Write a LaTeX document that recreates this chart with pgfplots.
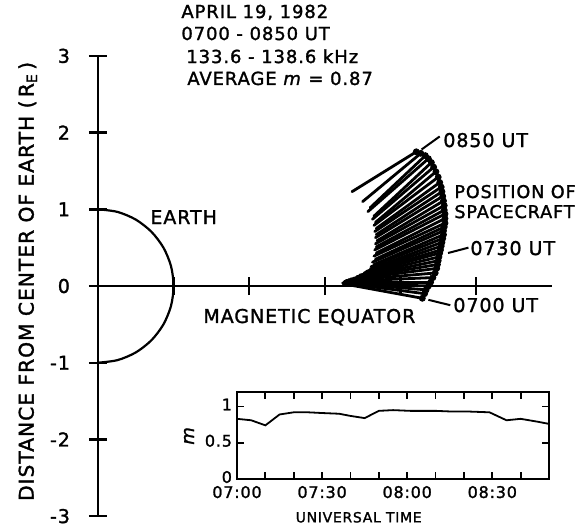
\documentclass[border=0pt]{standalone}
\usepackage{fontspec}
\setmainfont{DejaVu Sans}[LetterSpace=5, FakeBold=1.5]
\usepackage{pgfplots}
\pgfplotsset{compat=1.18}
\usepackage{pgfplotstable}

% spacecraft position (x,y) and inner end of the line (ex,ey), in Earth radii
\pgfplotstableread{
x    y     ex    ey
4.21 1.75  3.36  1.23
4.27 1.73  3.50  1.10
4.33 1.70  3.60  1.02
4.37 1.66  3.57  0.97
4.41 1.61  3.65  0.91
4.44 1.55  3.63  0.87
4.47 1.49  3.67  0.83
4.50 1.42  3.65  0.79
4.52 1.35  3.68  0.75
4.54 1.29  3.66  0.71
4.55 1.23  3.68  0.67
4.56 1.17  3.67  0.63
4.57 1.11  3.69  0.59
4.58 1.05  3.67  0.55
4.58 0.99  3.68  0.51
4.59 0.94  3.66  0.47
4.59 0.88  3.68  0.43
4.59 0.82  3.65  0.39
4.58 0.77  3.67  0.35
4.57 0.72  3.63  0.31
4.57 0.67  3.65  0.28
4.56 0.62  3.61  0.25
4.55 0.57  3.60  0.22
4.54 0.52  3.55  0.19
4.53 0.47  3.52  0.17
4.52 0.43  3.46  0.14
4.51 0.38  3.42  0.12
4.50 0.33  3.38  0.10
4.49 0.28  3.34  0.09
4.48 0.23  3.31  0.08
4.46 0.17  3.28  0.07
4.43 0.11  3.26  0.06
4.40 0.05  3.25  0.05
4.37 0.00  3.24  0.04
4.34 -0.05 3.24  0.04
4.32 -0.10 3.24  0.04
4.29 -0.16 3.24  0.03
}\fan

% m versus minutes after 07:00 UT
\pgfplotstableread{
t   m
0   0.83
5   0.81
10  0.74
15  0.89
20  0.92
25  0.92
30  0.91
36  0.90
40  0.87
45  0.84
50  0.94
55  0.95
61  0.94
70  0.94
76  0.93
82  0.93
89  0.92
95  0.81
100 0.83
106 0.79
110 0.76
}\mdata

\newcommand\fT{\fontsize{9}{11}\selectfont}
\newcommand\fL{\fontsize{9.5}{11}\selectfont}

\begin{document}
\begin{tikzpicture}
\begin{axis}[
  x=37.8pt, y=38.35pt,
  xmin=0, xmax=6.0, ymin=-3, ymax=3,
  axis x line=middle, axis y line=left,
  axis line style={-, line width=1.4pt},
  xtick={1,2,3,4,5}, xticklabels={},
  ytick={-3,-2,-1,0,1,2,3},
  yticklabels={-3,-2,-1,0,1,2,3},
  tick align=center, major tick length=9pt,
  tick style={line width=1.2pt, black},
  yticklabel style={font=\fontsize{9.5}{9.5}\selectfont, anchor=east, xshift=-6pt},
  clip=false,
]
  \coordinate (bbSW) at (axis cs:-1.296,-3.116);
  \coordinate (bbNE) at (axis cs:6.402,3.729);
  \coordinate (insetSW) at (axis cs:1.839,-2.516);

  % Earth
  \addplot[black, line width=1.1pt, smooth] coordinates {
    (0,-1) (0.259,-0.966) (0.5,-0.866) (0.707,-0.707) (0.866,-0.5) (0.966,-0.259)
    (1,0) (0.966,0.259) (0.866,0.5) (0.707,0.707) (0.5,0.866) (0.259,0.966) (0,1)};

  % lines from spacecraft positions
  \addplot[black, line width=1.4pt, line cap=round,
    quiver={u=\thisrow{ex}-\thisrow{x}, v=\thisrow{ey}-\thisrow{y}}]
    table[x=x, y=y] {\fan};
  \addplot[black, only marks, mark=*, mark size=1.5pt] table[x=x, y=y] {\fan};

  % leaders
  \draw[line width=1pt] (axis cs:4.28,1.78) -- (axis cs:4.52,1.95);
  \draw[line width=1pt] (axis cs:4.63,0.43) -- (axis cs:4.90,0.50);
  \draw[line width=1pt] (axis cs:4.37,-0.18) -- (axis cs:4.66,-0.25);

  % texts
  \node[anchor=base west, inner sep=0, font=\fT] at (axis cs:1.098,3.494) {APRIL 19, 1982};
  \node[anchor=base west, inner sep=0, font=\fT] at (axis cs:1.098,3.207) {0700 - 0850 UT};
  \node[anchor=base west, inner sep=0, font=\fT] at (axis cs:1.164,2.907) {133.6 - 138.6 kHz};
  \node[anchor=base west, inner sep=0, font=\fT] at (axis cs:1.177,2.621) {AVERAGE \textit{m} = 0.87};

  \node[anchor=base west, inner sep=0, font=\fL] at (axis cs:0.688,0.808) {EARTH};
  \node[anchor=base west, inner sep=0, font=\fL] at (axis cs:1.389,-0.482) {MAGNETIC EQUATOR};
  \node[anchor=base west, inner sep=0, font=\fL] at (axis cs:4.563,1.812) {0850 UT};
  \node[anchor=base west, inner sep=0, font=\fontsize{8.8}{11}\selectfont] at (axis cs:4.709,1.147) {POSITION OF};
  \node[anchor=base west, inner sep=0, font=\fontsize{8.8}{11}\selectfont] at (axis cs:4.709,0.886) {SPACECRAFT};
  \node[anchor=base west, inner sep=0, font=\fL] at (axis cs:4.921,0.404) {0730 UT};
  \node[anchor=base west, inner sep=0, font=\fL] at (axis cs:4.696,-0.339) {0700 UT};

  \node[rotate=90, anchor=center, inner sep=0, font=\fontsize{10.1}{12}\selectfont]
    at (axis cs:-0.93,0.06) {DISTANCE FROM CENTER OF EARTH (\,R\textsubscript{E}\,)};
\end{axis}

\begin{axis}[
  at={(insetSW)}, anchor=south west,
  scale only axis, width=156pt, height=43.5pt,
  xmin=0, xmax=110, ymin=0, ymax=1.2,
  xtick={0,30,60,90}, xticklabels={07:00,07:30,08:00,08:30},
  minor xtick={10,20,40,50,70,80,100},
  ytick={0,0.5,1}, yticklabels={0,0.5,1},
  tick align=inside, major tick length=3.5pt, minor tick length=3.5pt,
  axis line style={line width=1.1pt},
  tick style={line width=0.9pt, black},
  ticklabel style={font=\fontsize{8}{8}\selectfont},
  xticklabel style={yshift=0pt},
  yticklabel style={xshift=1pt, yshift=1pt},
  xlabel={UNIVERSAL TIME},
  xlabel style={font=\fontsize{7}{8}\selectfont, at={(axis description cs:0.39,-0.44)}, anchor=center},
  ylabel={\textit{m}},
  ylabel style={font=\fontsize{9}{9}\selectfont, at={(axis description cs:-0.154,0.5)}, anchor=center},
]
  \addplot[black, line width=0.9pt] table[x=t, y=m] {\mdata};
\end{axis}

\pgfresetboundingbox
\path (bbSW) rectangle (bbNE);
\end{tikzpicture}
\end{document}
